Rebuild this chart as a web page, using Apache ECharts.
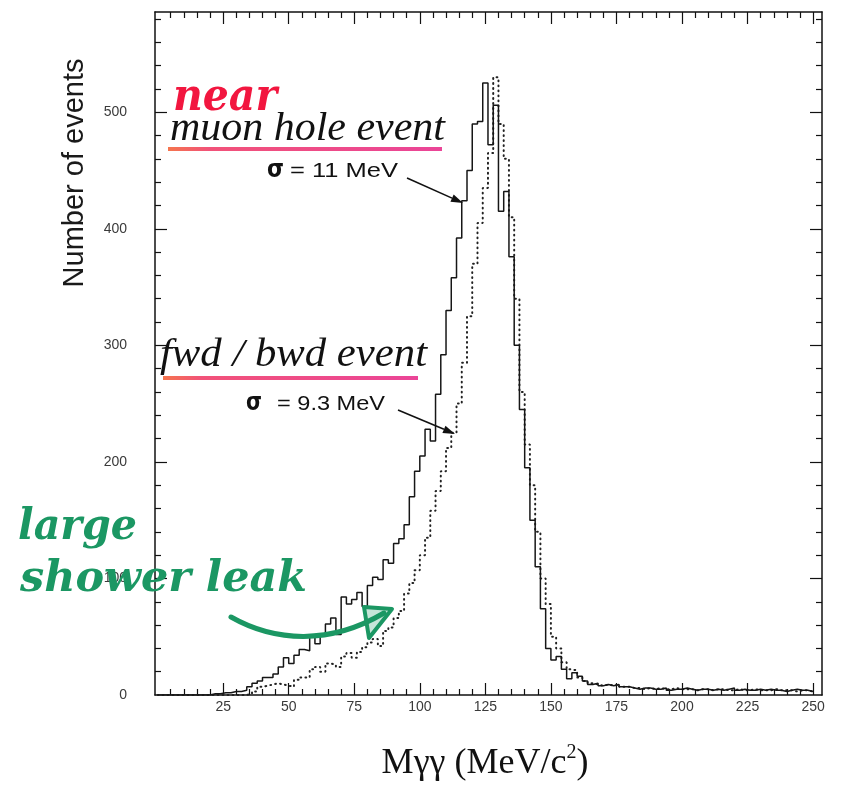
<!DOCTYPE html>
<html>
<head>
<meta charset="utf-8">
<script src="https://cdn.jsdelivr.net/npm/echarts@6/dist/echarts.min.js"></script>
<style>
html,body{margin:0;padding:0;background:#fff;}
#chart{width:851px;height:793px;}
</style>
</head>
<body>
<div id="chart"></div>
<script>
// ---- data (2 MeV bins, starting at 0 MeV) ----
const BIN_WIDTH = 2;
const muonHole = [
  0,0,0,0,0,0,0,0,0,0,
  1,1,2,2,3,3,4,7,10,12,
  15,15,18,24,32,27,34,39,38,50,
  44,52,61,66,52,84,78,82,88,76,
  94,101,99,116,113,130,134,146,170,192,
  205,228,218,258,292,330,358,392,424,450,
  490,492,525,472,506,415,432,376,300,245,
  195,150,110,74,40,30,33,22,14,19,
  16,12,9,10,8,9,8,9,7,7,
  6,5,6,6,5,5,6,4,5,5,
  6,5,4,5,5,4,5,4,5,6,
  4,5,4,4,5,4,5,4,4,3,
  4,5,4,4,3
];
const fwdBwd = [
  0,0,0,0,0,0,0,0,0,0,
  0,0,0,0,0,0,0,1,3,7,
  8,9,10,9,8,7,13,15,15,22,
  24,20,27,26,24,33,36,32,37,41,
  45,48,42,55,58,66,72,87,96,107,
  120,135,158,175,192,212,225,250,285,325,
  370,405,435,465,530,490,460,410,340,260,
  215,180,140,100,78,50,40,28,22,21,
  15,12,10,9,8,9,8,9,7,7,
  6,6,5,6,5,6,5,5,6,5,
  5,5,4,5,5,4,5,5,4,4,
  5,4,4,5,4,4,4,5,4,4,
  4,3,4,4,3
];
const xTickLabels = [25,50,75,100,125,150,175,200,225,250];
const yTickLabels = [0,100,200,300,400,500];
const xMinorStep = 5;
const yMinorStep = 20;

const binStarts = muonHole.map((_, i) => i * BIN_WIDTH);
function histPoints(vals){
  const pts = vals.map((v, i) => [binStarts[i], v]);
  pts.push([binStarts[vals.length-1] + BIN_WIDTH, vals[vals.length-1]]);
  return pts;
}
const X_MIN = -1, X_MAX = 253.4, Y_MIN = 0, Y_MAX = 586;
const xMinor = [], yMinor = [];
for (let v = xMinorStep; v <= 250; v += xMinorStep) if (v % 25 !== 0) xMinor.push(v);
for (let v = yMinorStep; v <= 580; v += yMinorStep) if (v % 100 !== 0) yMinor.push(v);

// ---- helpers ----
const ctx2d = document.createElement('canvas').getContext('2d');
function tw(text, font){ ctx2d.font = font; return ctx2d.measureText(text).width; }
function fitText(text, font, size, x, baseline, targetW, color, extra){
  const w = tw(text, font);
  return Object.assign({
    type: 'text', x: x, y: baseline - 0.32*size, scaleX: targetW / w, z: 20,
    style: { text: text, font: font, fill: color, align: 'left', verticalAlign: 'middle' }
  }, extra || {});
}
function arrow(x1,y1,x2,y2,color,w,hl,hw){
  const dx = x2-x1, dy = y2-y1, L = Math.hypot(dx,dy), ux = dx/L, uy = dy/L;
  const bx = x2 - ux*hl, by = y2 - uy*hl;
  return [
    {type:'line', z:20, shape:{x1:x1,y1:y1,x2:bx,y2:by}, style:{stroke:color, lineWidth:w}},
    {type:'polygon', z:20, shape:{points:[[x2,y2],[bx - uy*hw, by + ux*hw],[bx + uy*hw, by - ux*hw]]}, style:{fill:color}}
  ];
}
function underline(x1, x2, y){
  return {type:'rect', z:15, shape:{x:x1, y:y-2, width:x2-x1, height:4},
    style:{fill: new echarts.graphic.LinearGradient(0,0,1,0,[
      {offset:0, color:'#f4663a'},{offset:0.15, color:'#f03f6a'},{offset:1, color:'#e8308c'}]), opacity:0.9}};
}

const SERIF_IT = '"Liberation Serif", "DejaVu Serif", serif';
const HAND = '"DejaVu Serif", serif';
const GREEN = '#1b9763';
const RED = '#f2163f';

const graphics = [
  // y axis title
  {type:'text', x:75, y:173, rotation:Math.PI/2, z:20,
   style:{text:'Number of events', font:'29px "Liberation Sans", Arial, sans-serif', fill:'#1a1a1a', align:'center', verticalAlign:'middle'}},
  // handwritten & annotations
  fitText('near', 'italic bold 44px ' + HAND, 44, 173, 113, 104, RED),
  fitText('muon hole event', 'italic 40px ' + SERIF_IT, 40, 170, 142, 275, '#111'),
  underline(168, 442, 149),
  fitText('σ', 'bold 25px "DejaVu Sans", sans-serif', 25, 267, 178, 17, '#111'),
  fitText('= 11 MeV', '20px "Liberation Sans", Arial, sans-serif', 20, 290, 178, 108, '#111'),
  fitText('fwd / bwd event', 'italic 40px ' + SERIF_IT, 40, 160, 368, 267, '#111'),
  underline(163, 418, 378),
  fitText('σ', 'bold 25px "DejaVu Sans", sans-serif', 25, 246, 411, 16, '#111'),
  fitText('= 9.3 MeV', '20px "Liberation Sans", Arial, sans-serif', 20, 277, 411, 108, '#111'),
  fitText('large', 'italic bold 42px ' + HAND, 42, 18, 542, 119, GREEN),
  fitText('shower leak', 'italic bold 42px ' + HAND, 42, 20, 594, 287, GREEN),
  // green curved arrow
  {type:'bezierCurve', z:20, shape:{x1:231,y1:617,cpx1:275,cpy1:642,cpx2:330,cpy2:645,x2:384,y2:613},
   style:{stroke:GREEN, lineWidth:5, fill:null, lineCap:'round'}},
  {type:'polygon', z:20, shape:{points:[[392,609],[364,607],[369,638]]},
   style:{stroke:GREEN, lineWidth:4, fill:'rgba(27,151,99,0.25)', lineJoin:'round'}}
].concat(
  arrow(407,178,463,203,'#111',1.6,12,4),
  arrow(398,410,455,434,'#111',1.6,12,4)
);

// x title with superscript
(function(){
  const f1 = '36px "Liberation Serif", "DejaVu Serif", serif';
  const f2 = '20px "Liberation Serif", "DejaVu Serif", serif';
  const t1 = 'Mγγ (MeV/c', t2 = '2', t3 = ')';
  const w1 = tw(t1, f1), w2 = tw(t2, f2), w3 = tw(t3, f1);
  const total = w1 + w2 + w3, x0 = 485 - total/2, base = 775;
  graphics.push({type:'text', x:x0, y:base - 0.32*36, z:20, style:{text:t1, font:f1, fill:'#111', align:'left', verticalAlign:'middle'}});
  graphics.push({type:'text', x:x0+w1, y:base - 22, z:20, style:{text:t2, font:f2, fill:'#111', align:'left', verticalAlign:'middle'}});
  graphics.push({type:'text', x:x0+w1+w2, y:base - 0.32*36, z:20, style:{text:t3, font:f1, fill:'#111', align:'left', verticalAlign:'middle'}});
})();

const lineCol = '#111';
const labelStyle = {color:'#3a3a3a', fontSize:14, fontFamily:'"Liberation Sans", Arial, sans-serif'};
function xAx(pos, ticks, len, showLine, showLabel){
  return {type:'value', position:pos, min:X_MIN, max:X_MAX, gridIndex:0,
    axisLine:{show:showLine, onZero:false, lineStyle:{color:lineCol, width:1.5}},
    axisTick:{show:true, inside:true, length:len, customValues:ticks, lineStyle:{color:lineCol, width:1.2}},
    axisLabel:showLabel ? Object.assign({show:true, margin:5, customValues:xTickLabels}, labelStyle) : {show:false},
    splitLine:{show:false}};
}
function yAx(pos, ticks, len, showLine, showLabel){
  return {type:'value', position:pos, min:Y_MIN, max:Y_MAX, gridIndex:0,
    axisLine:{show:showLine, onZero:false, lineStyle:{color:lineCol, width:1.5}},
    axisTick:{show:true, inside:true, length:len, customValues:ticks, lineStyle:{color:lineCol, width:1.2}},
    axisLabel:showLabel ? Object.assign({show:true, margin:28, customValues:yTickLabels}, labelStyle) : {show:false},
    splitLine:{show:false}};
}

const chart = echarts.init(document.getElementById('chart'), null, {renderer:'canvas'});
chart.setOption({
  animation:false,
  backgroundColor:'#ffffff',
  grid:{left:155, right:29, top:12, bottom:98, containLabel:false},
  xAxis:[
    xAx('bottom', xTickLabels, 12, true, true),
    xAx('bottom', xMinor, 6, false, false),
    xAx('top', xTickLabels, 12, true, false),
    xAx('top', xMinor, 6, false, false)
  ],
  yAxis:[
    yAx('left', yTickLabels.filter(v => v > 0), 12, true, true),
    yAx('left', yMinor, 6, false, false),
    yAx('right', yTickLabels.filter(v => v > 0), 12, true, false),
    yAx('right', yMinor, 6, false, false)
  ],
  series:[
    {name:'muon hole event', type:'line', step:'end', xAxisIndex:0, yAxisIndex:0,
     data:histPoints(muonHole), symbol:'none', z:4,
     lineStyle:{color:'#161616', width:1.5}},
    {name:'fwd / bwd event', type:'line', step:'end', xAxisIndex:0, yAxisIndex:0,
     data:histPoints(fwdBwd), symbol:'none', z:3,
     lineStyle:{color:'#222', width:2, type:[0.8,4.2], cap:'round'}}
  ],
  graphic:graphics
});
</script>
</body>
</html>
